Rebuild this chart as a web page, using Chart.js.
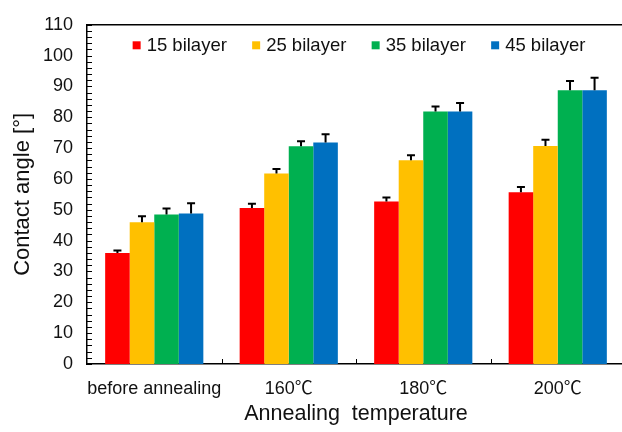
<!DOCTYPE html>
<html>
<head>
<meta charset="utf-8">
<script src="https://cdn.jsdelivr.net/npm/chart.js@4"></script>
<style>
  html, body { margin: 0; padding: 0; background: #fff; overflow: hidden; }
</style>
</head>
<body>
<canvas id="angleChart" width="630" height="432"></canvas>
<script>
// Contact angle vs annealing temperature
const categories = ['before annealing', '160℃', '180℃', '200℃'];
const seriesNames = ['15 bilayer', '25 bilayer', '35 bilayer', '45 bilayer'];
const angle15 = [36.0, 50.6, 52.7, 55.7];
const angle25 = [46.0, 61.8, 66.1, 70.7];
const angle35 = [48.5, 70.6, 81.9, 88.8];
const angle45 = [48.8, 71.8, 81.9, 88.8];
const err15 = [0.8, 1.4, 1.3, 1.7];
const err25 = [1.9, 1.4, 1.6, 2.0];
const err35 = [1.9, 1.6, 1.6, 3.0];
const err45 = [3.3, 2.7, 2.7, 4.0];
const yMin = 0, yMax = 110, yStep = 10, yMinorStep = 2;

const colors = ['#FF0000', '#FFC000', '#00B050', '#0070C0'];
const values = [angle15, angle25, angle35, angle45];
const errors = [err15, err25, err35, err45];
const FONT = '"Liberation Sans", Arial, "Noto Sans CJK JP", sans-serif';
const INK = '#111';

// upper error bars, inward axis ticks, top frame line and the legend
const extras = {
    id: 'extras',
    afterDatasetsDraw(chart) {
        const ctx = chart.ctx;
        const y = chart.scales.y;
        ctx.save();
        ctx.strokeStyle = '#000';
        ctx.lineWidth = 2;
        chart.data.datasets.forEach((ds, i) => {
            chart.getDatasetMeta(i).data.forEach((bar, j) => {
                const top = y.getPixelForValue(ds.data[j] + ds.errors[j]);
                ctx.beginPath();
                ctx.moveTo(bar.x, bar.y);
                ctx.lineTo(bar.x, top);
                ctx.moveTo(bar.x - 4, top);
                ctx.lineTo(bar.x + 4, top);
                ctx.stroke();
            });
        });
        ctx.restore();
    },
    afterDraw(chart) {
        const ctx = chart.ctx;
        const area = chart.chartArea;
        const x = chart.scales.x;
        const y = chart.scales.y;
        ctx.save();
        ctx.strokeStyle = '#000';
        ctx.lineWidth = 1;
        ctx.beginPath();
        for (let v = yMin; v <= yMax; v += yMinorStep) {
            const py = Math.round(y.getPixelForValue(v)) + 0.5;
            ctx.moveTo(area.left, py);
            ctx.lineTo(area.left + 5, py);
        }
        for (let i = 0; i < categories.length - 1; i++) {
            const px = Math.round((x.getPixelForValue(i) + x.getPixelForValue(i + 1)) / 2) + 0.5;
            ctx.moveTo(px, area.bottom);
            ctx.lineTo(px, area.bottom - 5);
        }
        ctx.stroke();
        ctx.lineWidth = 1.5;
        ctx.beginPath();
        ctx.moveTo(area.left, area.top);
        ctx.lineTo(area.right, area.top);
        ctx.lineTo(area.right, area.bottom);
        ctx.stroke();

        // legend row
        ctx.font = '18.5px ' + FONT;
        ctx.textBaseline = 'middle';
        ctx.fillStyle = INK;
        const step = 119.5;
        const last = chart.data.datasets[chart.data.datasets.length - 1].label;
        const total = step * (chart.data.datasets.length - 1) + 14 + ctx.measureText(last).width;
        let lx = (area.left + area.right) / 2 + 3 - total / 2;
        const ly = area.top + 20.5;
        chart.data.datasets.forEach((ds) => {
            ctx.fillStyle = ds.backgroundColor;
            ctx.fillRect(lx, ly - 4, 8, 8);
            ctx.fillStyle = INK;
            ctx.fillText(ds.label, lx + 14, ly + 1);
            lx += step;
        });
        ctx.restore();
    }
};

const chart = new Chart(document.getElementById('angleChart'), {
    type: 'bar',
    data: {
        labels: categories,
        datasets: seriesNames.map((name, i) => ({
            label: name,
            data: values[i],
            errors: errors[i],
            backgroundColor: colors[i],
            borderWidth: 0,
            categoryPercentage: 0.73,
            barPercentage: 1.0
        }))
    },
    options: {
        responsive: false,
        animation: false,
        devicePixelRatio: 1,
        layout: { padding: { top: 21, right: 5, left: 0, bottom: 0 } },
        plugins: {
            legend: { display: false },
            tooltip: { enabled: false }
        },
        scales: {
            x: {
                grid: { display: false, drawTicks: false },
                border: { display: true, color: '#000', width: 1.5 },
                ticks: {
                    color: INK,
                    font: { family: FONT, size: 18 },
                    padding: 14,
                    maxRotation: 0,
                    autoSkip: false
                },
                title: {
                    display: true,
                    text: 'Annealing  temperature',
                    color: INK,
                    font: { family: FONT, size: 21.5 },
                    padding: { top: 0, bottom: 5 }
                },
                afterFit(scale) { scale.height = 68; }
            },
            y: {
                min: yMin,
                max: yMax,
                grid: { display: false, drawTicks: false },
                border: { display: true, color: '#000', width: 1.5 },
                ticks: {
                    stepSize: yStep,
                    color: INK,
                    font: { family: FONT, size: 18 },
                    padding: 14
                },
                title: {
                    display: true,
                    text: 'Contact angle [°]',
                    color: INK,
                    font: { family: FONT, size: 22 },
                    padding: { top: 10, bottom: 0 }
                },
                afterFit(scale) { scale.width = 87; }
            }
        }
    },
    plugins: [extras]
});
</script>
</body>
</html>
